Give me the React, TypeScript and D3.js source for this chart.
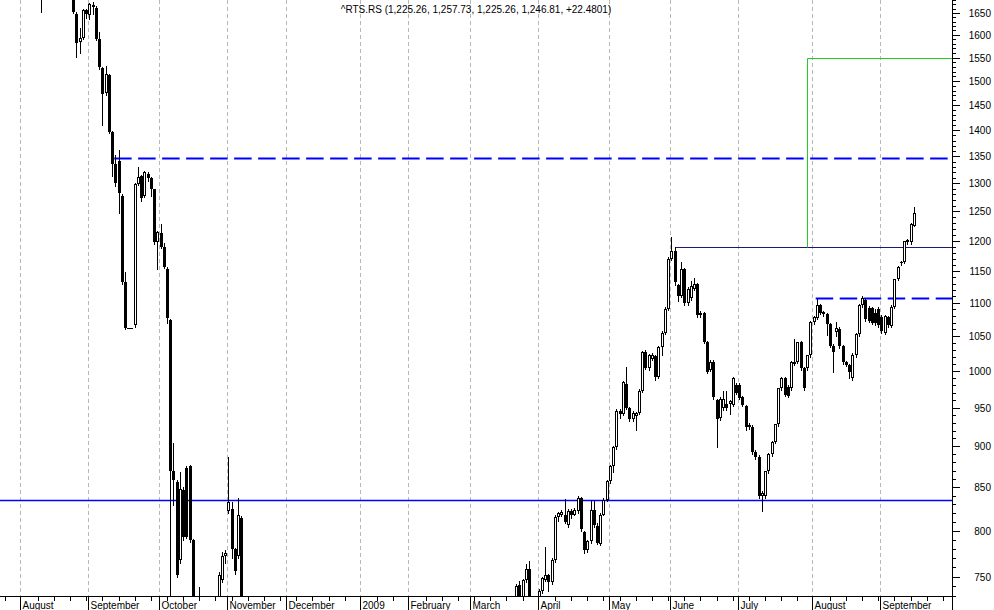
import React from 'react';
import * as d3 from 'd3';

type Ohlc = [number, number, number, number]; // open, high, low, close

const jul08: Ohlc[] = [
  [2050, 2080, 2020, 2060], [2060, 2070, 2000, 2010], [2010, 2030, 1960, 1975],
  [1975, 2000, 1940, 1990], [1990, 2020, 1970, 2000], [2000, 2010, 1960, 1980],
];
const aug08: Ohlc[] = [
  [1980, 2010, 1950, 1990], [1990, 2000, 1930, 1945], [1945, 1970, 1920, 1960],
  [1960, 1965, 1890, 1900], [1900, 1910, 1820, 1830], [1830, 1850, 1760, 1790],
  [1790, 1800, 1652, 1740], [1740, 1820, 1735, 1810], [1810, 1830, 1770, 1780],
  [1780, 1790, 1720, 1730], [1730, 1770, 1720, 1760], [1760, 1790, 1740, 1770],
  [1770, 1780, 1700, 1710], [1710, 1760, 1700, 1750], [1750, 1760, 1695, 1705],
  [1705, 1730, 1690, 1720], [1720, 1730, 1650, 1651], [1648, 1652, 1552, 1583],
  [1585, 1615, 1561, 1593], [1592, 1660, 1590, 1657], [1657, 1660, 1638, 1648],
];
const sep08: Ohlc[] = [
  [1646, 1673, 1636, 1670], [1669, 1675, 1647, 1663], [1661, 1665, 1588, 1591],
  [1590, 1606, 1525, 1529], [1528, 1530, 1411, 1473], [1475, 1531, 1470, 1514],
  [1512, 1515, 1395, 1397], [1397, 1399, 1313, 1335], [1335, 1353, 1296, 1300],
  [1342, 1363, 1248, 1282], [1277, 1280, 1130, 1133], [1132, 1148, 1060, 1062],
  [1062, 1062, 1062, 1062], [1062, 1062, 1062, 1062], [1066, 1300, 1064, 1299],
  [1299, 1330, 1297, 1312], [1313, 1316, 1268, 1273], [1277, 1322, 1275, 1320],
  [1318, 1320, 1305, 1309], [1309, 1311, 1277, 1289], [1289, 1290, 1195, 1197],
  [1197, 1217, 1153, 1215],
];
const oct08: Ohlc[] = [
  [1213, 1229, 1188, 1190], [1189, 1196, 1155, 1156], [1154, 1156, 1069, 1077],
  [1074, 1076, 700, 869], [869, 904, 829, 858], [856, 858, 750, 752],
  [768, 868, 765, 848], [847, 850, 790, 793], [873, 876, 792, 793],
  [875, 877, 787, 790], [790, 791, 700, 705], [705, 715, 650, 660],
  [660, 739, 640, 690], [690, 700, 640, 650], [650, 660, 600, 610],
  [610, 620, 560, 570], [570, 580, 540, 550], [550, 640, 545, 630],
  [630, 755, 625, 752], [746, 776, 744, 772], [772, 778, 765, 775],
];
const nov08: Ohlc[] = [
  [822, 887, 820, 832], [825, 832, 770, 780], [780, 781, 753, 756],
  [772, 837, 770, 817], [814, 816, 700, 710], [710, 725, 690, 700],
  [700, 715, 660, 670], [670, 700, 660, 690], [690, 700, 650, 660],
  [660, 680, 630, 640], [640, 650, 600, 610], [610, 640, 590, 630],
  [630, 660, 610, 615], [615, 625, 590, 600], [600, 640, 595, 635],
  [635, 660, 625, 650], [650, 665, 620, 630], [630, 650, 615, 640],
];
const dec08: Ohlc[] = [
  [640, 650, 595, 600], [600, 610, 575, 585], [585, 605, 570, 598], [598, 610, 585, 590],
  [590, 600, 560, 570], [570, 620, 565, 615], [615, 650, 610, 645], [645, 660, 630, 640],
  [640, 655, 620, 650], [650, 680, 645, 675], [675, 700, 660, 690], [690, 700, 665, 670],
  [670, 685, 650, 660], [660, 670, 640, 645], [645, 660, 620, 625], [625, 640, 600, 610],
  [610, 625, 595, 620], [620, 640, 610, 635], [635, 650, 620, 625], [625, 640, 610, 630],
  [630, 645, 615, 620], [620, 640, 612, 635], [635, 645, 625, 632],
];
const jan09: Ohlc[] = [
  [632, 640, 590, 600], [600, 610, 570, 575], [575, 590, 560, 585], [585, 600, 565, 570],
  [570, 575, 540, 545], [545, 560, 530, 555], [555, 565, 520, 525], [525, 540, 510, 535],
  [535, 545, 505, 510], [510, 530, 495, 525], [525, 545, 515, 540], [540, 550, 510, 515],
  [515, 530, 500, 505], [505, 520, 490, 515], [515, 535, 505, 530],
];
const feb09: Ohlc[] = [
  [530, 545, 515, 540], [540, 560, 530, 555], [555, 575, 545, 570], [570, 580, 550, 560],
  [560, 575, 545, 568], [568, 580, 555, 560], [560, 565, 535, 540], [540, 555, 530, 550],
  [550, 560, 520, 525], [525, 535, 505, 510], [510, 525, 495, 520], [520, 530, 500, 505],
  [505, 520, 490, 515], [515, 540, 510, 535], [535, 550, 520, 525], [525, 535, 500, 505],
  [505, 515, 490, 500], [500, 510, 480, 490], [490, 505, 475, 498],
];
const mar09: Ohlc[] = [
  [498, 505, 480, 485], [485, 500, 470, 495], [495, 520, 490, 515], [515, 545, 510, 540],
  [540, 560, 530, 550], [550, 580, 545, 575], [575, 590, 560, 570], [570, 600, 565, 595],
  [595, 620, 590, 615], [615, 640, 605, 630], [630, 650, 620, 645], [645, 670, 640, 665],
  [665, 690, 655, 680], [680, 715, 675, 710], [710, 742, 705, 740], [741, 745, 720, 725],
  [725, 748, 722, 746], [746, 763, 744, 758], [758, 767, 722, 725], [725, 728, 695, 700],
  [700, 725, 690, 715],
];
const apr09: Ohlc[] = [
  [715, 737, 712, 735], [735, 750, 733, 749], [746, 782, 745, 752], [752, 753, 735, 744],
  [744, 770, 742, 768], [768, 817, 766, 815], [815, 821, 811, 820], [818, 823, 816, 821],
  [818, 836, 808, 810], [806, 824, 804, 822], [822, 825, 814, 817], [818, 826, 817, 823],
  [822, 839, 820, 837], [837, 838, 800, 802], [798, 800, 775, 778], [778, 790, 776, 788],
  [788, 834, 786, 823], [823, 834, 804, 806], [805, 808, 785, 786], [785, 820, 784, 818],
  [818, 837, 817, 835], [835, 858, 834, 857],
];
const may09: Ohlc[] = [
  [857, 877, 855, 875], [875, 901, 868, 899], [899, 948, 897, 946], [946, 948, 936, 942],
  [942, 986, 940, 984], [982, 1005, 948, 950], [950, 951, 932, 935], [935, 945, 933, 943],
  [939, 944, 921, 943], [943, 975, 941, 973], [973, 1029, 971, 1027], [1027, 1030, 1003, 1004],
  [1004, 1024, 1002, 1022], [1017, 1025, 1015, 1023], [1021, 1022, 988, 992], [992, 1036, 990, 1034],
  [1034, 1057, 1023, 1055], [1055, 1093, 1053, 1091], [1091, 1172, 1089, 1170],
];
const jun09: Ohlc[] = [
  [1170, 1206, 1168, 1182], [1182, 1190, 1128, 1132], [1127, 1130, 1103, 1111], [1111, 1165, 1109, 1153],
  [1153, 1155, 1097, 1099], [1099, 1124, 1097, 1122], [1107, 1134, 1105, 1126], [1122, 1139, 1120, 1129],
  [1129, 1131, 1079, 1081], [1085, 1088, 1078, 1081], [1084, 1086, 1040, 1042], [1041, 1043, 997, 999],
  [1002, 1015, 1000, 1013], [1013, 1015, 962, 964], [960, 962, 899, 935], [936, 964, 934, 962],
  [949, 972, 947, 962], [955, 972, 947, 950], [955, 960, 941, 959], [954, 992, 952, 990],
  [981, 983, 968, 970],
];
const jul09: Ohlc[] = [
  [981, 983, 961, 963], [964, 966, 952, 954], [952, 954, 921, 925], [927, 930, 922, 924],
  [925, 927, 890, 893], [893, 895, 884, 887], [887, 889, 837, 839], [839, 845, 822, 843],
  [839, 870, 837, 869], [869, 891, 867, 890], [890, 907, 888, 906], [906, 929, 904, 928],
  [928, 977, 926, 976], [976, 991, 974, 990], [990, 992, 965, 967], [978, 980, 964, 966],
  [976, 1014, 974, 1013], [1010, 1046, 1008, 1013], [1013, 1042, 1011, 1041], [1041, 1043, 1002, 1004],
  [1004, 1006, 974, 976], [1004, 1023, 1002, 1022], [1022, 1072, 1020, 1071],
];
const aug09: Ohlc[] = [
  [1071, 1080, 1068, 1078], [1077, 1106, 1075, 1096], [1096, 1098, 1083, 1085], [1083, 1088, 1080, 1086],
  [1083, 1085, 1051, 1068], [1068, 1070, 1034, 1036], [1036, 1038, 999, 1027], [1056, 1071, 1050, 1062],
  [1060, 1063, 1033, 1035], [1035, 1037, 1010, 1012], [1012, 1014, 1007, 1009], [1009, 1010, 990, 998],
  [990, 1025, 988, 1023], [1023, 1055, 1020, 1053], [1053, 1098, 1050, 1096], [1096, 1110, 1094, 1107],
  [1104, 1108, 1073, 1075], [1092, 1095, 1071, 1073], [1092, 1094, 1068, 1070], [1085, 1090, 1066, 1070],
  [1090, 1093, 1064, 1067],
];
const sep09: Ohlc[] = [
  [1078, 1082, 1055, 1058], [1055, 1082, 1053, 1080], [1078, 1080, 1064, 1066], [1065, 1097, 1064, 1094],
  [1094, 1138, 1092, 1137], [1137, 1158, 1135, 1157], [1163, 1166, 1160, 1165], [1165, 1200, 1163, 1199],
  [1197, 1203, 1195, 1201], [1197, 1230, 1195, 1229], [1225.26, 1257.73, 1225.26, 1246.81],
];

const monthSeries: Ohlc[][] = [jul08, aug08, sep08, oct08, nov08, dec08, jan09, feb09, mar09, apr09, may09, jun09, jul09, aug09, sep09];

const monthLabels = ['July', 'August', 'September', 'October', 'November', 'December', '2009',
  'February', 'March', 'April', 'May', 'June', 'July', 'August', 'September'];

const holidays = [
  '2008-10-08', '2008-10-10', '2008-11-03', '2008-11-04',
  '2009-01-01', '2009-01-02', '2009-01-05', '2009-01-06', '2009-01-07', '2009-01-08', '2009-01-09',
  '2009-02-23', '2009-03-09', '2009-05-01', '2009-05-11', '2009-06-12',
];
const axisStart = '2008-07-24';
const axisEnd = '2009-09-30';
const minorTickEvery = 5; // bars between minor x ticks

const priceTicks = d3.range(730, 1681, 10);
const priceLabels = d3.range(750, 1651, 50);

const dashedLevels = [
  { value: 1347, from: '2008-09-11' },
  { value: 1108, from: '2009-08-04' },
];
const solidLevels = [{ value: 835, from: '2008-07-24' }];
const resistance = { value: 1190, from: '2009-06-02' };
const target = { from: 1190, to: 1550, at: '2009-07-30' };

const titleText = '^RTS.RS (1,225.26, 1,257.73, 1,225.26, 1,246.81, +22.4801)';

function tradingDays(): string[] {
  const hol = new Set(holidays);
  const out: string[] = [];
  const d = new Date(axisStart + 'T00:00:00Z');
  const end = new Date(axisEnd + 'T00:00:00Z');
  while (d <= end) {
    const wd = d.getUTCDay();
    const key = d.toISOString().slice(0, 10);
    if (wd !== 0 && wd !== 6 && !hol.has(key)) out.push(key);
    d.setUTCDate(d.getUTCDate() + 1);
  }
  return out;
}

const W = 994;
const H = 610;
const plotR = 952;
const plotB = 596;
const FONT = '"Liberation Sans", Arial, sans-serif';

export default function App() {
  const days = tradingDays();
  const candles: Ohlc[] = ([] as Ohlc[]).concat(...monthSeries);
  const idx = (date: string) => days.indexOf(date);

  const x = d3.scaleLinear().domain([-0.5, days.length - 0.5]).range([1.0, 951.5]);
  const y = d3.scaleLog().domain([730, 1680]).range([plotB, 0]);

  const monthStarts: number[] = [];
  days.forEach((d, i) => {
    if (i > 0 && d.slice(0, 7) !== days[i - 1].slice(0, 7)) monthStarts.push(i);
  });
  const minorTicks = d3.range(1, days.length, minorTickEvery).filter((i) => !monthStarts.includes(i));
  const gridIdx = [...monthStarts, days.length];
  const bx = (i: number) => Math.round(x(i - 0.5)) + 0.5;
  const cx = (i: number) => Math.round(x(i) - 0.5) + 0.5;

  const candleEls = candles.map((c, i) => {
    const [o, h, l, cl] = c;
    const xc = x(i);
    const xi = Math.round(xc - 1.5);
    const top = Math.round(y(Math.max(o, cl)));
    const bot = Math.round(y(Math.min(o, cl)));
    const up = cl > o;
    return (
      <g key={i}>
        <line x1={xi + 1.5} x2={xi + 1.5} y1={Math.round(y(h))} y2={Math.round(y(l)) + 1} stroke="#000" strokeWidth={1} />
        {up ? (
          <rect x={xi + 0.5} y={top + 0.5} width={2} height={Math.max(bot - top - 1, 0.01)} fill="#fff" stroke="#000" strokeWidth={1} />
        ) : (
          <rect x={xi} y={top} width={3} height={Math.max(bot - top, 1)} fill="#000" />
        )}
      </g>
    );
  });

  const ly = (v: number) => Math.round(y(v)) + 0.5;

  return (
    <svg width={W} height={H} style={{ position: 'absolute', left: 0, top: 0, background: '#fff' }} fontFamily={FONT}>
      <defs>
        <clipPath id="plot">
          <rect x={0} y={0} width={plotR} height={plotB} />
        </clipPath>
      </defs>
      <rect x={0} y={0} width={W} height={H} fill="#fff" />
      {gridIdx.map((i) => (
        <line key={'g' + i} x1={bx(i)} x2={bx(i)} y1={0} y2={plotB} stroke="#b8b8b8" strokeWidth={1} strokeDasharray="4,3" />
      ))}
      <g clipPath="url(#plot)">
        {solidLevels.map((s, k) => (
          <line key={'s' + k} x1={0} x2={plotR} y1={ly(s.value)} y2={ly(s.value)} stroke="#0000ff" strokeWidth={1.5} />
        ))}
        {dashedLevels.map((s, k) => (
          <line key={'d' + k} x1={x(idx(s.from) - 0.5)} x2={plotR} y1={ly(s.value)} y2={ly(s.value)} stroke="#0000ff" strokeWidth={2} strokeDasharray="17.5,6.5" />
        ))}
        <line x1={x(idx(resistance.from))} x2={plotR} y1={ly(resistance.value)} y2={ly(resistance.value)} stroke="#1a1a70" strokeWidth={1} />
        <line x1={cx(idx(target.at))} x2={cx(idx(target.at))} y1={ly(target.from)} y2={ly(target.to)} stroke="#22cc22" strokeWidth={1} />
        <line x1={cx(idx(target.at))} x2={plotR} y1={ly(target.to)} y2={ly(target.to)} stroke="#22cc22" strokeWidth={1} />
        {candleEls}
      </g>
      <text x={476} y={13} textAnchor="middle" fontSize={10} fill="#000">{titleText}</text>
      <line x1={0} x2={plotR + 0.5} y1={plotB + 0.5} y2={plotB + 0.5} stroke="#000" />
      {minorTicks.map((i) => (
        <line key={'w' + i} x1={cx(i)} x2={cx(i)} y1={plotB} y2={plotB + 5} stroke="#000" />
      ))}
      {monthStarts.map((i, k) => (
        <g key={'m' + i}>
          <line x1={bx(i)} x2={bx(i)} y1={plotB} y2={H} stroke="#000" />
          <text x={bx(i) + 2} y={608.5} fontSize={10} fill="#000">{monthLabels[k + 1]}</text>
        </g>
      ))}
      <line x1={plotR + 0.5} x2={plotR + 0.5} y1={0} y2={H} stroke="#000" />
      {priceTicks.map((v) => (
        <line key={'t' + v} x1={plotR} x2={plotR + (v % 50 === 0 ? 8 : 4)} y1={ly(v)} y2={ly(v)} stroke="#000" />
      ))}
      {priceLabels.map((v) => (
        <text key={'l' + v} x={991} y={Math.round(y(v)) + 4} textAnchor="end" fontSize={10} fill="#000">{v}</text>
      ))}
    </svg>
  );
}
